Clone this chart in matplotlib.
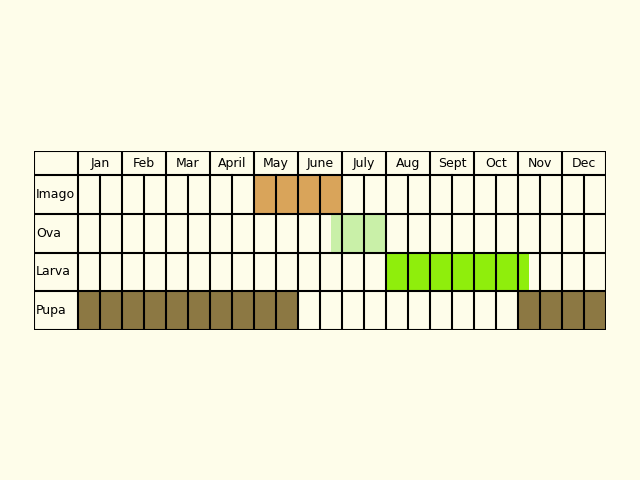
import matplotlib.pyplot as plt
from matplotlib.patches import Rectangle

months = ["Jan", "Feb", "Mar", "April", "May", "June", "July", "Aug", "Sept", "Oct", "Nov", "Dec"]
stages = ["Imago", "Ova", "Larva", "Pupa"]
# periods in half-month units (start, end)
periods = {
    "Imago": [(8, 12)],
    "Ova": [(11.5, 14)],
    "Larva": [(14, 20.5)],
    "Pupa": [(0, 10), (20, 24)],
}
colors = {"Imago": "#d9a45a", "Ova": "#c9f0a8", "Larva": "#8fee0c", "Pupa": "#8c7843"}

bg = "#fefdea"
fig = plt.figure(figsize=(6.4, 4.8), dpi=100, facecolor=bg)
ax = fig.add_axes([34 / 640, (480 - 330) / 480, 572 / 640, 179 / 480])
ax.set_xlim(-2, 24)
head = 24
rowh = 38.5
ax.set_ylim(head + rowh * 4, 0)
ax.axis("off")

# fills
for r, st in enumerate(stages):
    y0 = head + r * rowh
    for a, b in periods[st]:
        ax.add_patch(Rectangle((a, y0), b - a, rowh, facecolor=colors[st], edgecolor="none", zorder=1))

# grid lines
lw = 1.5
for r in range(5):
    y = head + r * rowh
    ax.plot([-2, 24], [y, y], color="black", lw=lw, zorder=2)
ax.plot([-2, 24], [0, 0], color="black", lw=lw, zorder=2)
for i in range(-2, 25):
    if i == -1:
        continue
    if i in (-2, 0, 24) or i % 2 == 0:
        ax.plot([i, i], [0, head + 4 * rowh], color="black", lw=lw, zorder=2)
    else:
        ax.plot([i, i], [head, head + 4 * rowh], color="black", lw=lw, zorder=2)

for m, name in enumerate(months):
    ax.text(2 * m + 1, head / 2, name, ha="center", va="center", fontsize=9)
for r, st in enumerate(stages):
    ax.text(-1.9, head + r * rowh + rowh / 2, st, ha="left", va="center", fontsize=9)

fig.savefig("out.png", dpi=100, facecolor=bg)
